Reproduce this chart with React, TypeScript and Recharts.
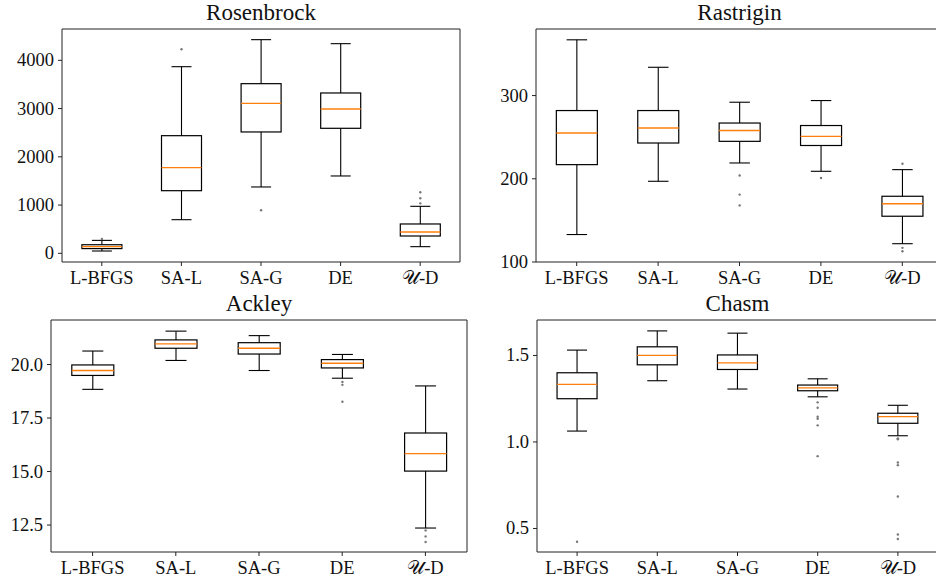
import { ComposedChart, Bar, XAxis, YAxis } from "recharts";

const methods = ["L-BFGS", "SA-L", "SA-G", "DE", "𝒰-D"];

// each row: [whisker low, q1, median, q3, whisker high]
const rosenbrockBoxes = [
  [48, 98, 137, 178, 268],
  [697, 1298, 1775, 2438, 3868],
  [1375, 2515, 3109, 3516, 4428],
  [1603, 2591, 2991, 3323, 4345],
  [138, 359, 442, 608, 974],
];
const rosenbrockFliers = [[296], [4228], [891], [], [1036, 1140, 1265]];

const rastriginBoxes = [
  [133, 217, 255, 282, 367],
  [197, 243, 261, 282, 334],
  [219, 245, 258, 267, 292],
  [209, 240, 251, 264, 294],
  [122, 155, 170, 179, 211],
];
const rastriginFliers = [[], [], [204, 181, 168], [201], [218, 117, 113]];

const ackleyBoxes = [
  [18.84, 19.49, 19.72, 19.98, 20.63],
  [20.19, 20.76, 20.96, 21.15, 21.56],
  [19.72, 20.49, 20.76, 21.02, 21.35],
  [19.36, 19.84, 20.06, 20.23, 20.47],
  [12.36, 15.02, 15.84, 16.8, 19.0],
];
const ackleyFliers = [[], [], [], [19.18, 19.05, 18.26], [12.25, 11.97, 11.71]];

const chasmBoxes = [
  [1.063, 1.25, 1.333, 1.4, 1.531],
  [1.354, 1.446, 1.5, 1.55, 1.642],
  [1.306, 1.419, 1.457, 1.503, 1.629],
  [1.261, 1.296, 1.313, 1.329, 1.365],
  [1.036, 1.108, 1.146, 1.166, 1.212],
];
const chasmFliers = [
  [0.423],
  [],
  [],
  [1.229, 1.198, 1.146, 1.134, 1.096, 0.918],
  [1.021, 1.016, 0.881, 0.866, 0.685, 0.465, 0.439],
];

const rosenbrockTicks = [0, 1000, 2000, 3000, 4000];
const rastriginTicks = [100, 200, 300];
const ackleyTicks = [12.5, 15, 17.5, 20];
const chasmTicks = [0.5, 1.0, 1.5];

const FONT = "'Liberation Serif', 'DejaVu Serif', serif";
const textStyle = { fontFamily: FONT, fontSize: 18.5, fill: "#111" };

function XTick(props: any) {
  const { x, y, payload } = props;
  return (
    <text x={x} y={y} dy={15} textAnchor="middle" style={textStyle}>
      {payload.value}
    </text>
  );
}

function makeYTick(digits: number) {
  return (props: any) => {
    const { x, y, payload } = props;
    return (
      <text x={x} y={y} dy={6} textAnchor="end" style={textStyle}>
        {Number(payload.value).toFixed(digits)}
      </text>
    );
  };
}

function BoxShape(props: any) {
  const { x, y, width, height, payload } = props;
  const [lo, hi] = payload.range;
  const top = Math.min(y, y + height);
  const bot = Math.max(y, y + height);
  const toY = (v: number) =>
    hi === lo ? top : top + ((hi - v) / (hi - lo)) * (bot - top);
  const [wLo, q1, med, q3, wHi] = payload.stats;
  const cx = x + width / 2;
  const cap = width / 4;
  return (
    <g>
      <line x1={cx} x2={cx} y1={toY(wHi)} y2={toY(q3)} stroke="#000" strokeWidth={1.1} />
      <line x1={cx} x2={cx} y1={toY(q1)} y2={toY(wLo)} stroke="#000" strokeWidth={1.1} />
      <line x1={cx - cap} x2={cx + cap} y1={toY(wHi)} y2={toY(wHi)} stroke="#000" strokeWidth={1.1} />
      <line x1={cx - cap} x2={cx + cap} y1={toY(wLo)} y2={toY(wLo)} stroke="#000" strokeWidth={1.1} />
      <rect
        x={x}
        y={toY(q3)}
        width={width}
        height={toY(q1) - toY(q3)}
        fill="none"
        stroke="#000"
        strokeWidth={1.2}
      />
      <line x1={x} x2={x + width} y1={toY(med)} y2={toY(med)} stroke="#ff7f0e" strokeWidth={1.3} />
      {payload.fliers.map((f: number, i: number) => (
        <circle key={i} cx={cx} cy={toY(f)} r={1.2} fill="#777" />
      ))}
    </g>
  );
}

type PanelProps = {
  title: string;
  boxes: number[][];
  fliers: number[][];
  ticks: number[];
  domain: [number, number];
  digits: number;
  left: number;
  top: number;
  width: number;
  height: number;
  yWidth: number;
  margin: { top: number; right: number; bottom: number; left: number };
};

function Panel(p: PanelProps) {
  const rows = methods.map((name, i) => {
    const s = p.boxes[i];
    const f = p.fliers[i];
    return {
      name,
      stats: s,
      fliers: f,
      range: [Math.min(s[0], ...f), Math.max(s[4], ...f)],
    };
  });
  const plotLeft = p.margin.left + p.yWidth;
  const plotRight = p.width - p.margin.right - 1;
  return (
    <div style={{ position: "absolute", left: p.left, top: p.top, fontFamily: FONT }}>
      <div
        style={{
          position: "absolute",
          left: plotLeft,
          width: plotRight - plotLeft,
          top: p.margin.top - 30,
          textAlign: "center",
          fontSize: 23,
          color: "#111",
          lineHeight: "30px",
        }}
      >
        {p.title}
      </div>
      <ComposedChart
        width={p.width}
        height={p.height}
        data={rows}
        margin={p.margin}
        barCategoryGap="25%"
      >
        <XAxis
          dataKey="name"
          tick={<XTick />}
          tickSize={4}
          tickMargin={3}
          height={30}
          interval={0}
          axisLine={{ stroke: "#222" }}
          tickLine={{ stroke: "#222" }}
        />
        <XAxis
          xAxisId="top"
          orientation="top"
          dataKey="name"
          tick={false}
          tickLine={false}
          height={1}
          axisLine={{ stroke: "#222" }}
        />
        <YAxis
          type="number"
          domain={p.domain}
          ticks={p.ticks}
          allowDataOverflow
          tick={makeYTick(p.digits)}
          tickSize={4}
          tickMargin={4}
          width={p.yWidth}
          axisLine={{ stroke: "#222" }}
          tickLine={{ stroke: "#222" }}
        />
        <YAxis
          yAxisId="right"
          orientation="right"
          type="number"
          domain={p.domain}
          allowDataOverflow
          tick={false}
          tickLine={false}
          width={1}
          axisLine={{ stroke: "#222" }}
        />
        <Bar dataKey="range" fill="none" shape={BoxShape} isAnimationActive={false} />
      </ComposedChart>
    </div>
  );
}

export default function App() {
  return (
    <div
      style={{
        position: "absolute",
        left: 0,
        top: 0,
        width: 936,
        height: 583,
        overflow: "hidden",
        background: "#fff",
      }}
    >
      <Panel
        title="Rosenbrock"
        boxes={rosenbrockBoxes}
        fliers={rosenbrockFliers}
        ticks={rosenbrockTicks}
        domain={[-180, 4649]}
        digits={0}
        left={0}
        top={0}
        width={470}
        height={300}
        yWidth={62}
        margin={{ top: 28, right: 9, bottom: 8, left: 0 }}
      />
      <Panel
        title="Rastrigin"
        boxes={rastriginBoxes}
        fliers={rastriginFliers}
        ticks={rastriginTicks}
        domain={[100, 380]}
        digits={0}
        left={466}
        top={0}
        width={480}
        height={300}
        yWidth={70}
        margin={{ top: 28, right: 2, bottom: 8, left: 0 }}
      />
      <Panel
        title="Ackley"
        boxes={ackleyBoxes}
        fliers={ackleyFliers}
        ticks={ackleyTicks}
        domain={[11.24, 22.08]}
        digits={1}
        left={0}
        top={290}
        width={480}
        height={293}
        yWidth={51}
        margin={{ top: 29, right: 12, bottom: 1, left: 0 }}
      />
      <Panel
        title="Chasm"
        boxes={chasmBoxes}
        fliers={chasmFliers}
        ticks={chasmTicks}
        domain={[0.364, 1.705]}
        digits={1}
        left={466}
        top={290}
        width={480}
        height={293}
        yWidth={71}
        margin={{ top: 29, right: 7, bottom: 1, left: 0 }}
      />
    </div>
  );
}
